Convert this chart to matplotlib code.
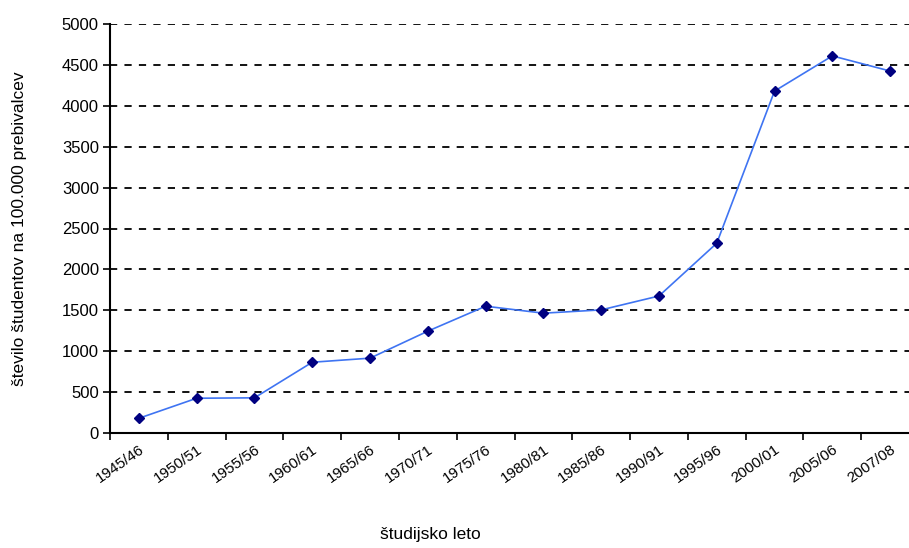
import matplotlib.pyplot as plt

plt.rcParams['font.family'] = ['Liberation Sans', 'DejaVu Sans']

leta = ['1945/46', '1950/51', '1955/56', '1960/61', '1965/66', '1970/71', '1975/76',
        '1980/81', '1985/86', '1990/91', '1995/96', '2000/01', '2005/06', '2007/08']
studenti = [180, 425, 430, 865, 915, 1245, 1550, 1465, 1505, 1675, 2320, 4180, 4610, 4425]

fig = plt.figure(figsize=(9.09, 5.48), dpi=100)
ax = fig.add_axes([110 / 909, 1 - 433 / 548, 809 / 909, 409 / 548])

x = list(range(len(leta)))
ax.plot(x, studenti, color='#3f74f2', lw=1.2, marker='D', markersize=5.5,
        markerfacecolor='#000080', markeredgecolor='#000080', zorder=3)

ax.set_ylim(0, 5000)
ax.set_yticks(range(0, 5001, 500))
ax.set_xlim(-0.5, len(leta) - 0.5)

# tick marks sit between categories, labels under each category
ax.set_xticks([i - 0.5 for i in range(len(leta))])
ax.set_xticklabels([])
ax.set_xticks(x, minor=True)
ax.set_xticklabels(leta, minor=True, rotation=35, ha='right', va='top',
                   rotation_mode='anchor', fontsize=11)
ax.tick_params(axis='x', which='minor', length=0, pad=7)
ax.tick_params(axis='x', which='major', length=5, width=1.2, direction='out')
ax.tick_params(axis='y', length=5, width=1.2, direction='out', labelsize=12, pad=3)

for v in range(500, 5001, 500):
    ax.axhline(v, color='black', lw=1.3, ls=(0, (4, 4)), zorder=1)

for s in ['top', 'right']:
    ax.spines[s].set_visible(False)
ax.spines['left'].set_linewidth(1.5)
ax.spines['bottom'].set_linewidth(1.5)

ax.set_ylabel('število študentov na 100.000 prebivalcev', fontsize=12.5, labelpad=25)
fig.text(430 / 909, 1 - 535 / 548, 'študijsko leto', fontsize=12.5, ha='center', va='center')

fig.savefig('out.png', dpi=100)
